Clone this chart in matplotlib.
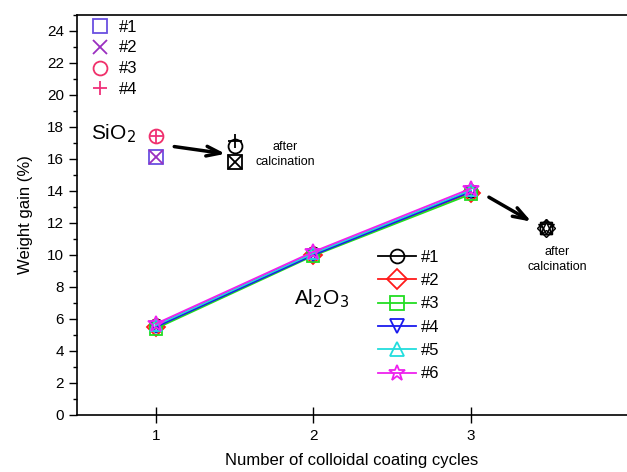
import matplotlib
matplotlib.use("Agg")
import matplotlib.pyplot as plt
from matplotlib.lines import Line2D
from matplotlib.ticker import MultipleLocator

plt.rcParams['font.family'] = ['Liberation Sans', 'DejaVu Sans']

# Al2O3 coatings: weight gain vs. number of colloidal coating cycles
cycles = [1, 2, 3]
al_labels = ['#1', '#2', '#3', '#4', '#5', '#6']
al_values = [
    [5.6, 10.1, 14.0],
    [5.5, 10.0, 13.9],
    [5.4, 9.95, 13.8],
    [5.5, 10.0, 13.95],
    [5.6, 10.1, 14.05],
    [5.7, 10.2, 14.15],
]
al_colors = ['black', '#FF1A1A', '#22DD22', '#1A1AEE', '#22DDDD', '#EE22EE']
al_markers = ['o', 'D', 's', 'v', '^', '*']
al_after_x = 3.48
al_after = [11.7, 11.7, 11.7, 11.7, 11.7, 11.75]

# SiO2 coatings (single cycle) and after calcination
si_labels = ['#1', '#2', '#3', '#4']
si_cycle = 1
si_values = [16.1, 16.1, 17.45, 17.45]
si_after_x = 1.5
si_after = [15.8, 15.8, 16.8, 17.1]
si_colors = ['#6A4FE0', '#9A2FC0', '#F0306A', '#F0307A']
si_markers = ['s', 'x', 'o', '+']

W, H = 627, 472
fig = plt.figure(figsize=(W / 100, H / 100), dpi=100)
ax = fig.add_axes([77 / W, 57 / H, 1 - 77 / W, 400 / H])
ax.set_xlim(0.5, 0.5 + 550 / 157.5)
ax.set_ylim(0, 25)

for vals, c, m in zip(al_values, al_colors, al_markers):
    ms = 12 if m == '*' else 9
    ax.plot(cycles, vals, color=c, lw=1.3, marker=m, ms=ms,
            mfc='none', mec=c, mew=1.3, zorder=3)
for y, m in zip(al_after, al_markers):
    ms = 12 if m == '*' else 9
    ax.plot([al_after_x], [y], ls='none', marker=m, ms=ms, mfc='none',
            mec='black', mew=1.0, zorder=3)

for y, c, m in zip(si_values, si_colors, si_markers):
    ax.plot([si_cycle], [y], ls='none', marker=m, ms=10, mfc='none',
            mec=c, mew=1.3, zorder=3)
for y, m in zip(si_after, si_markers):
    ax.plot([si_after_x], [y], ls='none', marker=m, ms=10, mfc='none',
            mec='black', mew=1.3, zorder=3)

# arrows toward the calcined samples
arrow = dict(arrowstyle='->,head_length=1.0,head_width=0.35', color='black', lw=2.5)
ax.annotate('', xy=(si_after_x - 0.04, 16.3), xytext=(si_cycle + 0.1, 16.8),
            arrowprops=arrow)
ax.annotate('', xy=(al_after_x - 0.08, 12.0), xytext=(3.1, 13.7),
            arrowprops=arrow)

ax.text(si_after_x + 0.32, 16.3, 'after\ncalcination', ha='center', va='center',
        fontsize=9, linespacing=1.35)
ax.text(al_after_x + 0.07, 9.7, 'after\ncalcination', ha='center', va='center',
        fontsize=9, linespacing=1.35)
ax.text(0.59, 17.6, 'SiO$_2$', fontsize=15, ha='left', va='center')
ax.text(1.88, 7.3, 'Al$_2$O$_3$', fontsize=15, ha='left', va='center')

# legends
si_handles = [Line2D([], [], ls='none', marker=m, ms=10, mfc='none', mec=c, mew=1.3)
              for c, m in zip(si_colors, si_markers)]
leg1 = ax.legend(si_handles, si_labels, loc='upper left', bbox_to_anchor=(0.015, 1.005),
                 frameon=False, fontsize=12, handlelength=1.0, handletextpad=0.6,
                 labelspacing=0.35, borderaxespad=0.0)
ax.add_artist(leg1)
al_handles = [Line2D([], [], color=c, lw=1.3, marker=m, ms=12 if m == '*' else 10,
                     mfc='none', mec=c, mew=1.3)
              for c, m in zip(al_colors, al_markers)]
ax.legend(al_handles, al_labels, loc='upper left', bbox_to_anchor=(0.535, 0.43),
          frameon=False, fontsize=12, handlelength=2.3, handletextpad=0.3,
          labelspacing=0.5, borderaxespad=0.0)

ax.spines['right'].set_visible(False)
for s in ['left', 'top', 'bottom']:
    ax.spines[s].set_linewidth(1.2)
ax.set_xticks([1, 2, 3])
ax.yaxis.set_major_locator(MultipleLocator(2))
ax.yaxis.set_minor_locator(MultipleLocator(1))
ax.tick_params(axis='y', which='major', direction='out', length=6, width=1, labelsize=11)
ax.tick_params(axis='y', which='minor', direction='out', length=3, width=1)
ax.tick_params(axis='x', which='major', direction='inout', length=12, width=1,
               labelsize=11, pad=4)
ax.set_xlabel('Number of colloidal coating cycles', fontsize=12, labelpad=7)
ax.set_ylabel('Weight gain (%)', fontsize=12, labelpad=10)

fig.savefig('out.png', dpi=100)
